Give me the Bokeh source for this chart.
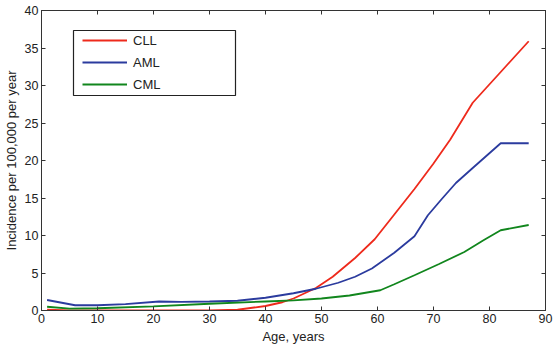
from bokeh.plotting import figure
from bokeh.models import LinearAxis, Range1d, Legend, LegendItem, FixedTicker, BoxAnnotation
from bokeh.embed import file_html
from bokeh.resources import INLINE

# Data
cll_age = [1, 5, 10, 20, 30, 35, 40, 43, 45, 49, 52, 56, 59.5, 63, 66.6, 70, 73, 77, 82, 87]
cll_val = [0.1, 0.0, 0.0, 0.0, 0.0, 0.1, 0.6, 1.1, 1.6, 3.0, 4.5, 7.0, 9.5, 12.8, 16.2, 19.6, 22.8, 27.7, 31.8, 35.9]

aml_age = [1, 6, 10, 15, 21, 25, 30, 35, 40, 45, 49, 53, 56, 59, 63, 66.6, 69, 71.4, 74, 77, 82, 87]
aml_val = [1.4, 0.7, 0.7, 0.85, 1.2, 1.15, 1.2, 1.3, 1.7, 2.3, 2.9, 3.7, 4.5, 5.6, 7.7, 9.9, 12.7, 14.8, 17.0, 19.0, 22.3, 22.3]

cml_age = [1, 5, 10, 20, 30, 40, 45, 50, 55, 60.5, 63, 66.6, 71, 75.5, 79, 82, 87]
cml_val = [0.5, 0.25, 0.3, 0.55, 0.9, 1.2, 1.35, 1.6, 2.0, 2.7, 3.5, 4.7, 6.2, 7.8, 9.4, 10.7, 11.4]

x_ticks = [0, 10, 20, 30, 40, 50, 60, 70, 80, 90]
y_ticks = [0, 5, 10, 15, 20, 25, 30, 35, 40]

FONT = "Liberation Sans"

p = figure(width=553, height=347, output_backend="svg", toolbar_location=None,
           x_range=Range1d(0, 90), y_range=Range1d(0, 40),
           min_border_left=38, min_border_right=8, min_border_top=10, min_border_bottom=37)
p.background_fill_color = "white"
p.border_fill_color = "white"
p.outline_line_color = "#333333"
p.outline_line_width = 1
p.grid.visible = False

for ax in (p.xaxis[0], p.yaxis[0]):
    ax.major_tick_in = 4
    ax.major_tick_out = 0
    ax.minor_tick_in = 0
    ax.minor_tick_out = 0
    ax.axis_line_color = "#333333"
    ax.major_tick_line_color = "#333333"
    ax.major_label_text_font = FONT
    ax.major_label_text_font_size = "12.5px"
    ax.major_label_text_color = "#222222"
    ax.axis_label_text_font = FONT
    ax.axis_label_text_font_style = "normal"
    ax.axis_label_text_font_size = "13px"
    ax.axis_label_text_color = "#222222"
    ax.major_label_standoff = 3
    ax.axis_label_standoff = 3

p.xaxis[0].ticker = FixedTicker(ticks=x_ticks)
p.yaxis[0].ticker = FixedTicker(ticks=y_ticks)
p.xaxis[0].axis_label = "Age, years"
p.yaxis[0].axis_label = "Incidence per 100,000 per year"

top = LinearAxis(ticker=FixedTicker(ticks=x_ticks),
                 major_label_overrides={t: "" for t in x_ticks},
                 major_tick_in=4, major_tick_out=0, minor_tick_in=0, minor_tick_out=0,
                 axis_line_color="#333333", major_tick_line_color="#333333", major_label_standoff=0)
right = LinearAxis(ticker=FixedTicker(ticks=y_ticks),
                   major_label_overrides={t: "" for t in y_ticks},
                   major_tick_in=4, major_tick_out=0, minor_tick_in=0, minor_tick_out=0,
                   axis_line_color="#333333", major_tick_line_color="#333333", major_label_standoff=0)
p.add_layout(top, "above")
p.add_layout(right, "right")

r1 = p.line(cll_age, cll_val, line_color="#ee2a1c", line_width=1.8)
r2 = p.line(aml_age, aml_val, line_color="#2b3b9e", line_width=1.8)
r3 = p.line(cml_age, cml_val, line_color="#11861d", line_width=1.8)

# legend frame (MATLAB-style wide box), frame-relative screen units
legend_box = BoxAnnotation(left=32, right=194, top=280, bottom=215,
                           left_units="screen", right_units="screen",
                           top_units="screen", bottom_units="screen",
                           fill_color="white", fill_alpha=1,
                           line_color="#222222", line_alpha=1, line_width=1.2,
                           level="overlay")
p.add_layout(legend_box)

legend = Legend(items=[LegendItem(label="CLL", renderers=[r1]),
                       LegendItem(label="AML", renderers=[r2]),
                       LegendItem(label="CML", renderers=[r3])],
                location=(36, 213), orientation="vertical",
                label_text_font=FONT, label_text_font_size="13px", label_text_color="#222222",
                glyph_width=45, glyph_height=16, label_height=16, label_standoff=6,
                spacing=6, padding=5, margin=0,
                border_line_alpha=0, background_fill_alpha=0)
p.add_layout(legend, "center")

open("out.html", "w").write(file_html(p, INLINE))
